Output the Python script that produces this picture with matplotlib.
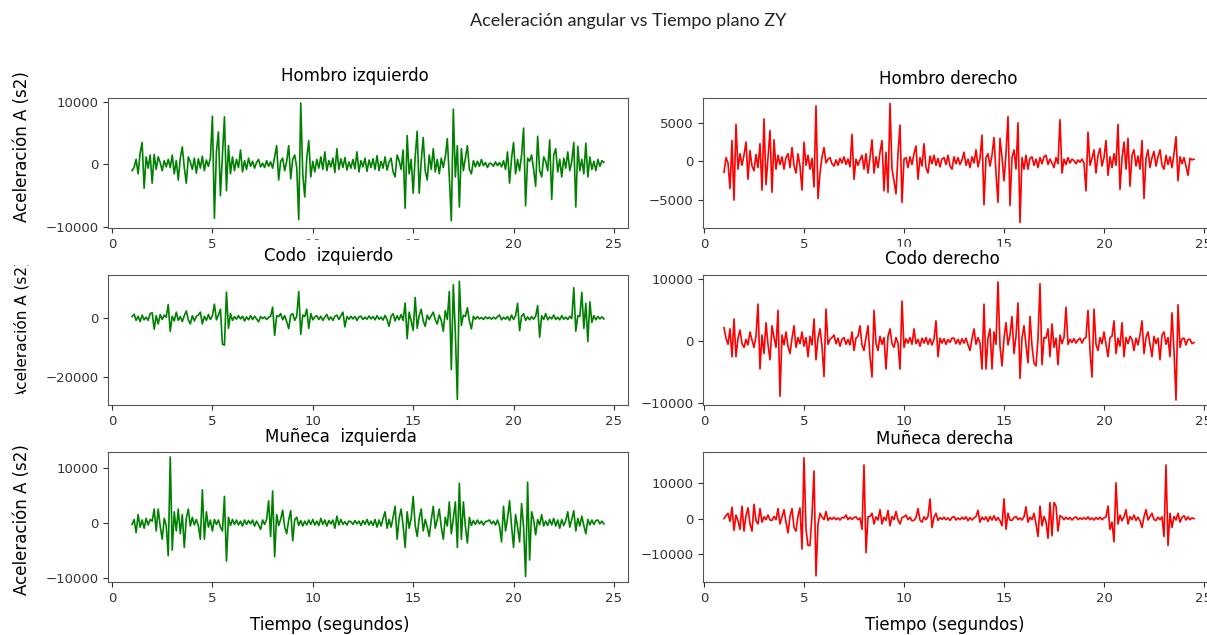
import matplotlib
matplotlib.use("Agg")
import matplotlib.pyplot as plt
import numpy as np
from matplotlib.transforms import Bbox
from matplotlib.patches import Rectangle

# values, in thousands, one row per second (0.1 s step, t = 1.0 .. 24.5)
hombro_izq = [
    -1.0, -0.5, 0.8, -1.5, 1.8, 3.5, -3.8, 1.2, -0.6, 1.5,
    -3.0, 1.6, -0.8, 1.2, 0.3, -1.0, 0.6, -0.4, 0.8, -0.5,
    1.5, -1.5, 0.6, -2.5, 1.0, 2.8, -0.5, -3.0, 1.2, 0.4,
    -0.8, 1.0, -1.4, 0.9, -0.6, 1.3, -1.0, 0.7, -0.3, 1.0,
    7.7, -8.6, 2.0, 5.2, -5.0, 1.5, 7.6, -4.2, 3.0, -1.5,
    1.2, -1.0, 0.8, -0.5, 2.3, -1.2, 0.6, -0.8, 1.0, -0.3,
    0.5, -0.6, 0.3, 0.8, -0.4, 0.2, -0.5, 0.6, -0.3, 0.4,
    -0.6, 1.2, 3.0, -2.5, 0.5, 1.0, -1.0, 0.5, 3.0, -2.3,
    0.8, 1.5, -0.5, -8.8, 9.8, -1.5, -5.2, 1.0, 3.8, -2.0,
    0.5, -1.2, 0.8, -0.6, 1.2, -0.8, 2.0, -1.0, 0.6, -0.4,
    1.0, -1.3, 2.5, -0.8, 0.9, -0.5, 1.1, -0.9, 0.4, -0.6,
    0.8, -0.7, 2.0, -1.2, 0.6, -0.4, 1.0, -1.1, 0.7, -0.5,
    0.9, -0.8, 1.4, -1.0, 0.5, -0.6, 1.2, -0.9, 0.4, 1.0,
    -1.2, -2.0, 1.5, 0.6, -0.8, 2.3, -7.0, 4.6, -1.5, 0.8,
    -4.6, 1.2, 5.3, -4.6, 0.5, 4.3, -1.0, -2.5, 1.5, -0.8,
    2.5, -1.2, 0.8, -1.5, 1.0, -0.5, 1.2, 4.1, -2.0, -9.0,
    8.8, -2.0, 3.0, -6.8, 2.5, -1.0, 1.0, 3.0, -0.8, -1.5,
    0.6, -0.4, 0.5, -0.3, 0.8, -0.2, 0.3, -0.5, 0.2, 0.1,
    -0.3, 0.4, -0.2, 0.3, -0.4, 0.6, -0.8, 2.0, -3.0, 1.0,
    3.5, -1.5, 0.8, -1.0, 1.5, 5.8, -6.6, 1.0, 0.5, 1.5,
    -0.8, -3.5, 4.5, -1.0, -2.0, 1.2, 0.5, -1.0, 3.9, -5.6,
    1.5, 2.5, -1.2, 0.8, -2.0, 1.0, -0.6, 2.0, -1.0, 0.5,
    3.5, -6.8, 2.9, -1.0, 0.8, -1.5, 3.4, -2.0, 1.2, -0.8,
    0.5, -1.0, 0.8, -0.3, 0.6, 0.3,
]
hombro_der = [
    -1.4, 0.5, -0.2, -3.5, 2.7, -5.0, 4.8, -1.0, 1.0, -0.5,
    0.8, 2.5, -2.3, 1.4, -0.6, -1.2, 0.9, -0.8, 2.3, -3.7,
    5.5, -3.0, 0.5, 4.0, -4.0, 2.8, -1.0, 0.8, -0.4, 0.6,
    -1.0, 0.5, 1.0, -0.8, 1.8, -0.5, -1.5, 1.0, -0.6, -3.7,
    2.5, -0.5, 0.8, -1.0, 0.4, -3.3, 7.2, -4.8, -1.5, 0.6,
    1.8, -0.2, 0.3, 0.5, -0.3, -0.6, 0.2, -0.5, 0.4, -0.2,
    0.6, -0.4, 0.3, -0.7, 3.5, -2.3, 0.3, -0.5, 0.2, 0.8,
    -1.0, 1.0, -1.5, 0.5, 2.8, -1.5, 0.6, -0.8, 1.2, 2.7,
    -3.8, 1.2, -4.0, 7.5, -1.0, -2.5, -4.2, 1.0, 4.7, -5.3,
    0.3, 0.5, -0.8, 0.6, -0.4, 1.0, 2.0, -2.3, 0.5, -0.6,
    2.3, -0.8, -1.5, 0.7, -0.3, 0.8, -0.5, 0.4, -0.7, 0.3,
    0.5, -0.4, 0.8, -0.6, -1.0, 0.6, -0.3, 0.5, -0.4, 0.2,
    1.2, -0.5, 0.3, -0.8, 0.6, -0.2, 1.5, -0.7, 0.4, 3.4,
    -5.6, 0.5, 1.0, -0.6, 0.8, 3.1, -1.5, -5.3, 3.0, 0.5,
    -2.5, 1.0, 5.8, -5.7, 0.5, 1.5, -1.0, 5.0, -7.9, 0.5,
    -1.0, 0.8, -1.0, 0.4, 0.6, -0.5, 0.3, -0.8, 0.5, -0.3,
    0.6, 0.8, -0.4, 0.3, -0.2, -0.8, 0.5, -0.3, 5.4, -1.5,
    0.3, -0.4, 0.5, -0.2, 0.3, 0.1, -0.3, 0.2, -0.1, 0.3,
    -0.2, -3.8, 3.8, -0.5, 0.4, 1.5, -1.5, 0.8, 1.7, -0.6,
    0.5, 2.7, -1.8, 0.6, -0.8, 1.0, -0.5, 4.8, -3.6, 0.4,
    2.5, -1.0, 3.0, -3.2, 0.8, 1.5, -0.6, 0.7, -1.0, 2.7,
    -4.8, 0.4, 1.5, -0.8, 0.5, 1.3, -0.6, 0.6, 1.5, -0.5,
    -1.0, 0.8, -0.4, 0.6, -0.8, 1.0, 3.2, -2.5, 0.6, -0.3,
    0.5, -0.6, -1.8, 0.4, 0.2, 0.3,
]
codo_izq = [
    0.5, 1.3, -0.8, 0.6, -1.2, 1.0, -0.6, 0.3, -0.8, 1.5,
    1.8, -3.8, 0.8, -2.0, 1.2, -0.5, 1.0, 0.3, 4.6, -4.5,
    0.6, -1.0, 2.0, -0.8, 0.5, -1.2, 0.8, 2.4, -0.6, -2.0,
    0.8, -1.0, 0.6, 1.0, 2.0, -2.0, 0.6, -0.8, 1.2, -0.5,
    0.8, 4.7, -0.6, 1.0, 3.0, -8.9, -9.2, 8.8, -3.5, 1.5,
    -0.8, 0.5, -0.4, 0.8, -0.3, 0.6, -1.0, 0.4, -0.6, 0.8,
    -0.5, 0.6, -0.3, -1.3, 0.5, -0.2, 0.4, -0.5, 0.3, 0.6,
    3.7, -5.9, 0.8, 0.5, 1.5, -0.6, 0.8, -1.2, -3.6, 1.0,
    1.5, -0.8, 0.6, 9.0, -5.5, 1.0, 0.5, 3.0, -3.5, 1.5,
    -0.6, 0.4, 0.8, -0.5, 0.6, -0.8, 0.3, 1.2, -0.6, 0.4,
    -0.8, 0.6, 1.0, -0.5, 0.8, 2.0, -3.0, 0.5, -0.4, 0.6,
    -0.3, 0.5, -0.8, 0.4, 0.6, -0.5, 0.3, -0.4, 0.7, -0.3,
    0.5, -0.6, 0.8, -0.4, 0.3, -0.7, 0.9, -0.5, -2.8, 0.6,
    1.5, -1.0, 0.8, -0.6, 1.2, -0.8, 5.1, -7.0, 2.0, -1.0,
    -4.2, 7.0, -3.5, 0.8, 3.0, -1.0, -2.8, 1.0, -0.5, 0.8,
    2.0, -0.6, -2.0, 1.0, -0.8, -4.5, 2.5, -0.5, 9.0, -17.5,
    11.3, -5.0, -27.6, 12.5, -2.5, 1.0, 0.5, 3.5, -1.0, -3.7,
    0.6, -0.4, 0.5, -0.3, 0.2, -0.5, 0.4, -0.2, 0.3, -0.4,
    0.3, -0.3, 0.5, 1.0, -0.6, 0.3, -0.4, 0.5, -0.8, 1.0,
    -0.5, 0.8, 5.0, -4.3, 0.6, 1.5, -0.8, 0.4, -0.6, 0.5,
    -0.4, 0.6, 4.2, -6.5, 0.8, -0.5, 1.5, -0.6, 0.4, -0.3,
    1.0, -0.5, 0.3, -0.6, 0.8, -0.4, 0.3, -0.5, 0.6, -0.2,
    10.3, -4.5, 0.8, 0.5, 8.7, -3.5, 5.0, -8.0, 5.5, -1.5,
    0.8, -0.6, 0.5, -0.3, 0.4, -0.3,
]
codo_der = [
    2.2, 0.5, -0.5, 2.0, -2.5, 3.6, -2.5, 0.5, 1.8, -0.4,
    -1.0, 0.3, -0.6, 1.5, 0.2, -1.0, 0.8, 6.0, -4.5, 1.0,
    -2.0, 3.0, -0.5, -3.0, 2.5, 0.6, -1.0, 5.0, -8.9, 1.0,
    -0.6, 1.5, -0.8, -2.0, 0.5, 2.5, -1.0, 0.6, -0.4, 1.5,
    -0.8, 0.6, -2.5, 0.8, -0.6, 3.6, -3.0, 0.5, 2.0, -0.8,
    -5.7, 5.2, -0.5, 0.3, 0.6, 1.0, -0.4, 0.5, -0.8, 0.3,
    0.6, -0.5, 0.3, -0.6, 1.5, -1.5, 0.5, 0.8, 2.5, -0.6,
    -1.5, 0.6, 2.5, -2.5, -5.8, 5.0, -0.4, -1.5, 0.8, -0.5,
    0.6, -4.5, 0.8, 2.0, -0.4, -1.0, 0.6, -0.3, -4.5, 6.5,
    -1.0, 0.4, -0.3, 0.6, -0.5, 2.0, -0.4, 0.3, -0.8, 0.5,
    -0.3, 0.6, -0.5, 0.4, -0.6, 0.3, 3.3, -2.5, 0.5, -0.3,
    0.4, -0.5, 0.3, -0.2, 0.5, 0.5, -0.4, 0.3, -0.5, 0.4,
    -0.3, 0.5, -0.6, -1.5, 0.4, 2.0, -0.5, 0.6, -0.3, -4.5,
    6.0, -4.5, 0.5, 2.0, -4.5, 1.5, -0.5, 9.6, -0.8, -4.0,
    0.5, 3.0, -0.6, 1.0, 4.0, -2.0, 0.8, 6.2, -6.0, 0.5,
    2.5, -0.6, -3.5, 4.0, -0.8, -3.5, -4.0, 0.5, 9.3, -3.8,
    0.6, 0.5, 2.0, -2.5, 2.8, -1.0, 0.5, -3.8, 1.0, -0.4,
    0.6, 5.5, -0.5, 0.3, -0.2, 0.4, -0.3, 0.2, 0.5, -0.3,
    0.4, 0.6, 5.0, -1.5, -5.8, 5.2, -0.5, -1.5, 0.6, -0.4,
    1.5, -0.5, -2.5, 0.6, 0.8, 3.3, -2.0, 0.5, -0.8, 3.0,
    -2.5, 0.6, -0.4, 0.8, 0.3, -1.5, 0.5, -0.6, 1.0, 3.3,
    -2.0, 0.6, 1.5, -0.5, -2.5, 0.8, -0.4, 0.5, -3.0, 1.0,
    1.5, -0.5, 0.6, -2.5, 4.6, -1.5, -9.5, 5.9, -1.0, 0.4,
    0.5, -0.6, 0.3, 0.3, -0.4, -0.2,
]
muneca_izq = [
    -0.3, 0.6, -1.8, 1.5, -0.8, 0.5, -1.0, 0.8, -0.4, 0.6,
    0.3, 2.5, -1.5, 2.5, -0.6, -3.0, 0.8, -0.5, -6.0, 12.0,
    -5.0, 2.0, -1.5, 2.5, -2.0, 1.5, -4.5, 0.8, 2.5, -0.6,
    1.0, -0.4, 0.6, -0.5, -3.0, 6.0, -3.0, 2.0, -0.8, 0.5,
    -1.5, 0.6, -0.3, 0.5, -0.8, -1.5, 4.8, -7.0, 1.0, -0.5,
    0.6, -0.3, 0.5, -0.4, 0.3, -0.6, 0.5, -0.3, 0.4, -0.2,
    0.5, -0.6, 0.3, -0.4, -1.2, 0.5, -0.3, 0.6, 4.0, -2.5,
    5.8, -6.2, 1.5, -0.5, 0.6, 2.3, -0.8, -2.0, 0.5, 2.2,
    -3.3, 0.6, 1.0, -0.5, 0.4, -0.6, 0.3, -0.4, 0.5, -0.3,
    0.6, -0.4, 0.3, -0.5, 0.8, -0.3, 0.5, -0.6, 0.4, -0.2,
    0.5, -1.0, 1.2, -0.4, 0.6, -0.3, 0.2, -0.4, 0.3, 0.2,
    -0.3, 0.4, -0.2, 0.3, -0.5, 0.4, -0.3, 0.6, -0.4, 0.3,
    -0.5, 0.6, -0.8, 0.5, -0.6, 0.8, 2.0, -1.0, 0.6, -0.8,
    1.0, 3.0, -3.0, 0.8, 2.5, -0.6, -4.5, 2.0, -1.0, 0.8,
    4.8, -0.5, -2.5, 0.8, 2.5, -1.5, 0.6, -0.8, -2.5, 0.5,
    3.0, -1.0, 0.6, 2.5, -0.8, -3.0, 1.0, -0.6, 3.8, -2.0,
    0.8, 3.8, -4.5, 7.2, -3.0, 3.8, -0.6, -3.7, 1.0, -0.5,
    0.4, -0.3, 0.5, -0.2, 0.3, -0.4, 0.2, 0.3, 0.5, -0.2,
    0.3, -0.4, 0.5, -0.6, -3.5, 3.0, -1.5, 0.8, 4.0, -0.6,
    -4.5, 1.5, -0.8, -3.5, 3.5, -0.8, -9.8, 7.4, -6.8, 2.0,
    0.5, -2.2, 0.6, -0.4, 1.5, -0.6, 0.3, -0.5, 0.6, -0.4,
    0.8, -0.6, 0.5, -1.0, 0.6, -0.5, 0.4, 2.0, -0.8, 0.6,
    2.2, -1.5, 0.8, -0.6, 1.2, -0.5, -2.0, 0.6, -0.4, 0.5,
    -0.3, 0.4, 0.5, -0.2, 0.3, -0.2,
]
muneca_der = [
    0.0, 0.8, 1.5, -0.8, 3.2, -3.3, 1.0, -0.6, -3.0, 3.5,
    -3.5, 0.8, 3.0, -1.5, -3.5, 4.0, -0.6, -1.5, 2.8, -1.0,
    0.5, -0.3, 1.0, -0.4, -0.5, 0.6, -0.3, 2.8, -1.5, 0.5,
    2.5, -1.0, -4.0, 0.6, 2.8, -2.5, -3.5, 0.8, 3.0, -8.5,
    17.0, -3.0, -7.5, -7.5, 1.0, 13.3, -16.0, -1.5, 1.5, 0.4,
    -0.3, 2.0, -0.5, 0.3, -0.2, 0.4, -0.3, 0.2, -0.4, 0.3,
    0.2, 1.0, -0.3, 0.4, -0.2, 0.3, 0.5, -0.3, 0.2, -3.0,
    15.0, -9.5, 0.5, 0.6, 1.5, -1.5, 0.5, -0.4, 2.5, -1.5,
    0.4, -0.5, 2.3, -2.0, 0.6, -0.3, 2.0, -0.4, -1.5, 0.3,
    0.5, 1.0, -0.3, 0.4, -0.6, -0.5, 0.3, 2.8, -0.4, -1.0,
    0.5, -0.3, 0.6, 5.5, -2.5, 0.4, 1.5, -0.5, 0.3, -0.2,
    0.4, -0.3, 0.2, -0.5, 0.3, 0.6, -0.4, 0.2, -0.3, 0.4,
    -0.2, 0.5, -0.6, 0.3, -0.4, 0.2, 0.6, 2.3, -1.0, 0.4,
    -0.3, 0.5, -0.8, 0.6, -0.4, 0.8, -0.5, 0.3, -0.6, -2.0,
    5.5, -3.0, 1.5, -0.4, -0.5, 0.3, 0.6, -0.3, 0.2, -0.4,
    0.5, 3.3, -1.0, 0.4, -0.3, 1.5, -1.5, -5.0, 3.5, -2.0,
    0.6, -0.8, -5.5, 4.5, -4.8, 4.5, 3.5, -3.5, 0.8, 0.5,
    -0.3, 0.4, -0.2, 0.3, -0.4, 0.2, 0.5, -0.3, 0.2, -0.2,
    0.3, -0.2, 0.5, -0.3, 0.2, -0.4, 0.3, -0.2, 0.4, -0.3,
    0.2, 0.5, 3.5, -3.0, -1.0, -6.5, 10.0, -1.5, 1.0, -0.6,
    0.5, 2.5, -1.5, 0.6, -0.3, 1.0, -0.5, 0.4, -0.6, -2.5,
    0.5, 2.5, -0.4, 0.6, 1.5, -0.3, -0.5, 0.4, -0.3, 0.5,
    -5.0, 15.0, -7.5, 1.5, -2.5, 0.6, -0.4, 1.5, -1.0, 0.3,
    0.8, -0.4, 0.5, -0.3, 0.2, 0.0,
]

W, H = 1207, 635
fig = plt.figure(figsize=(W / 100, H / 100), dpi=100)


def box(l, t, r, b):
    return [l / W, 1 - b / H, (r - l) / W, (b - t) / H]


rows = [(98, 228), (275, 405), (452, 582)]
panels = [
    # data, color, left, right, xlim, ylim, yticks
    (hombro_izq, "green", 108, 628, (-0.2, 25.7), (-10150, 10600), [-10000, 0, 10000]),
    (hombro_der, "red", 703, 1218, (-0.05, 25.7), (-8600, 8200), [-5000, 0, 5000]),
    (codo_izq, "green", 108, 628, (-0.2, 25.7), (-29500, 14600), [-20000, 0]),
    (codo_der, "red", 703, 1218, (-0.05, 25.7), (-10300, 10700), [-10000, 0, 10000]),
    (muneca_izq, "green", 108, 628, (-0.2, 25.7), (-10800, 12900), [-10000, 0, 10000]),
    (muneca_der, "red", 703, 1218, (-0.05, 25.7), (-17700, 18600), [-10000, 0, 10000]),
]

for k, (vals, col, l, r, xl, yl, yt) in enumerate(panels):
    t, b = rows[k // 2]
    ax = fig.add_axes(box(l, t, r, b))
    y = np.array(vals) * 1000
    x = np.linspace(1.0, 24.5, len(y))
    ax.plot(x, y, color=col, lw=1.2)
    ax.set_xlim(*xl)
    ax.set_ylim(*yl)
    ax.set_yticks(yt)
    ax.set_xticks([0, 5, 10, 15, 20, 25])
    ax.tick_params(labelsize=9.5, colors="#333333", length=3.5)
    for s in ax.spines.values():
        s.set_color("#555555")

# the pasted middle-row screenshots hide part of the top row's tick labels
for (l, t, r, b) in [(238, 240, 465, 272), (860, 247, 1050, 272)]:
    fig.add_artist(Rectangle((l / W, 1 - b / H), (r - l) / W, (b - t) / H,
                             transform=fig.transFigure, color="white",
                             zorder=2))

fig.text(628 / W, 1 - 21 / H, "Aceleración angular vs Tiempo plano ZY",
         ha="center", va="center", fontsize=13, family="Lato", color="#222222")

titles = [
    ("Hombro izquierdo", 355, 76),
    ("Hombro derecho", 948, 79),
    ("Codo  izquierdo", 329, 256),
    ("Codo derecho", 942, 259),
    ("Muñeca  izquierda", 341, 437),
    ("Muñeca derecha", 945, 439),
]
for txt, px, py in titles:
    fig.text(px / W, 1 - py / H, txt, ha="center", va="center", fontsize=12,
             zorder=3)

for py in [147, 520]:
    fig.text(22 / W, 1 - py / H, "Aceleración A (s2)", rotation=90,
             ha="center", va="center", fontsize=12)

# middle label is cut by the panels above and below in the original
lab = fig.text(22 / W, 1 - 330 / H, "Aceleración A (s2)", rotation=90,
               ha="center", va="center", fontsize=11)
lab.set_clip_box(Bbox.from_extents(0, H - 394, 60, H - 265))
lab.set_clip_on(True)

for px in [330, 945]:
    fig.text(px / W, 1 - 625 / H, "Tiempo (segundos)", ha="center",
             va="center", fontsize=12)

fig.savefig("out.png", dpi=100)
